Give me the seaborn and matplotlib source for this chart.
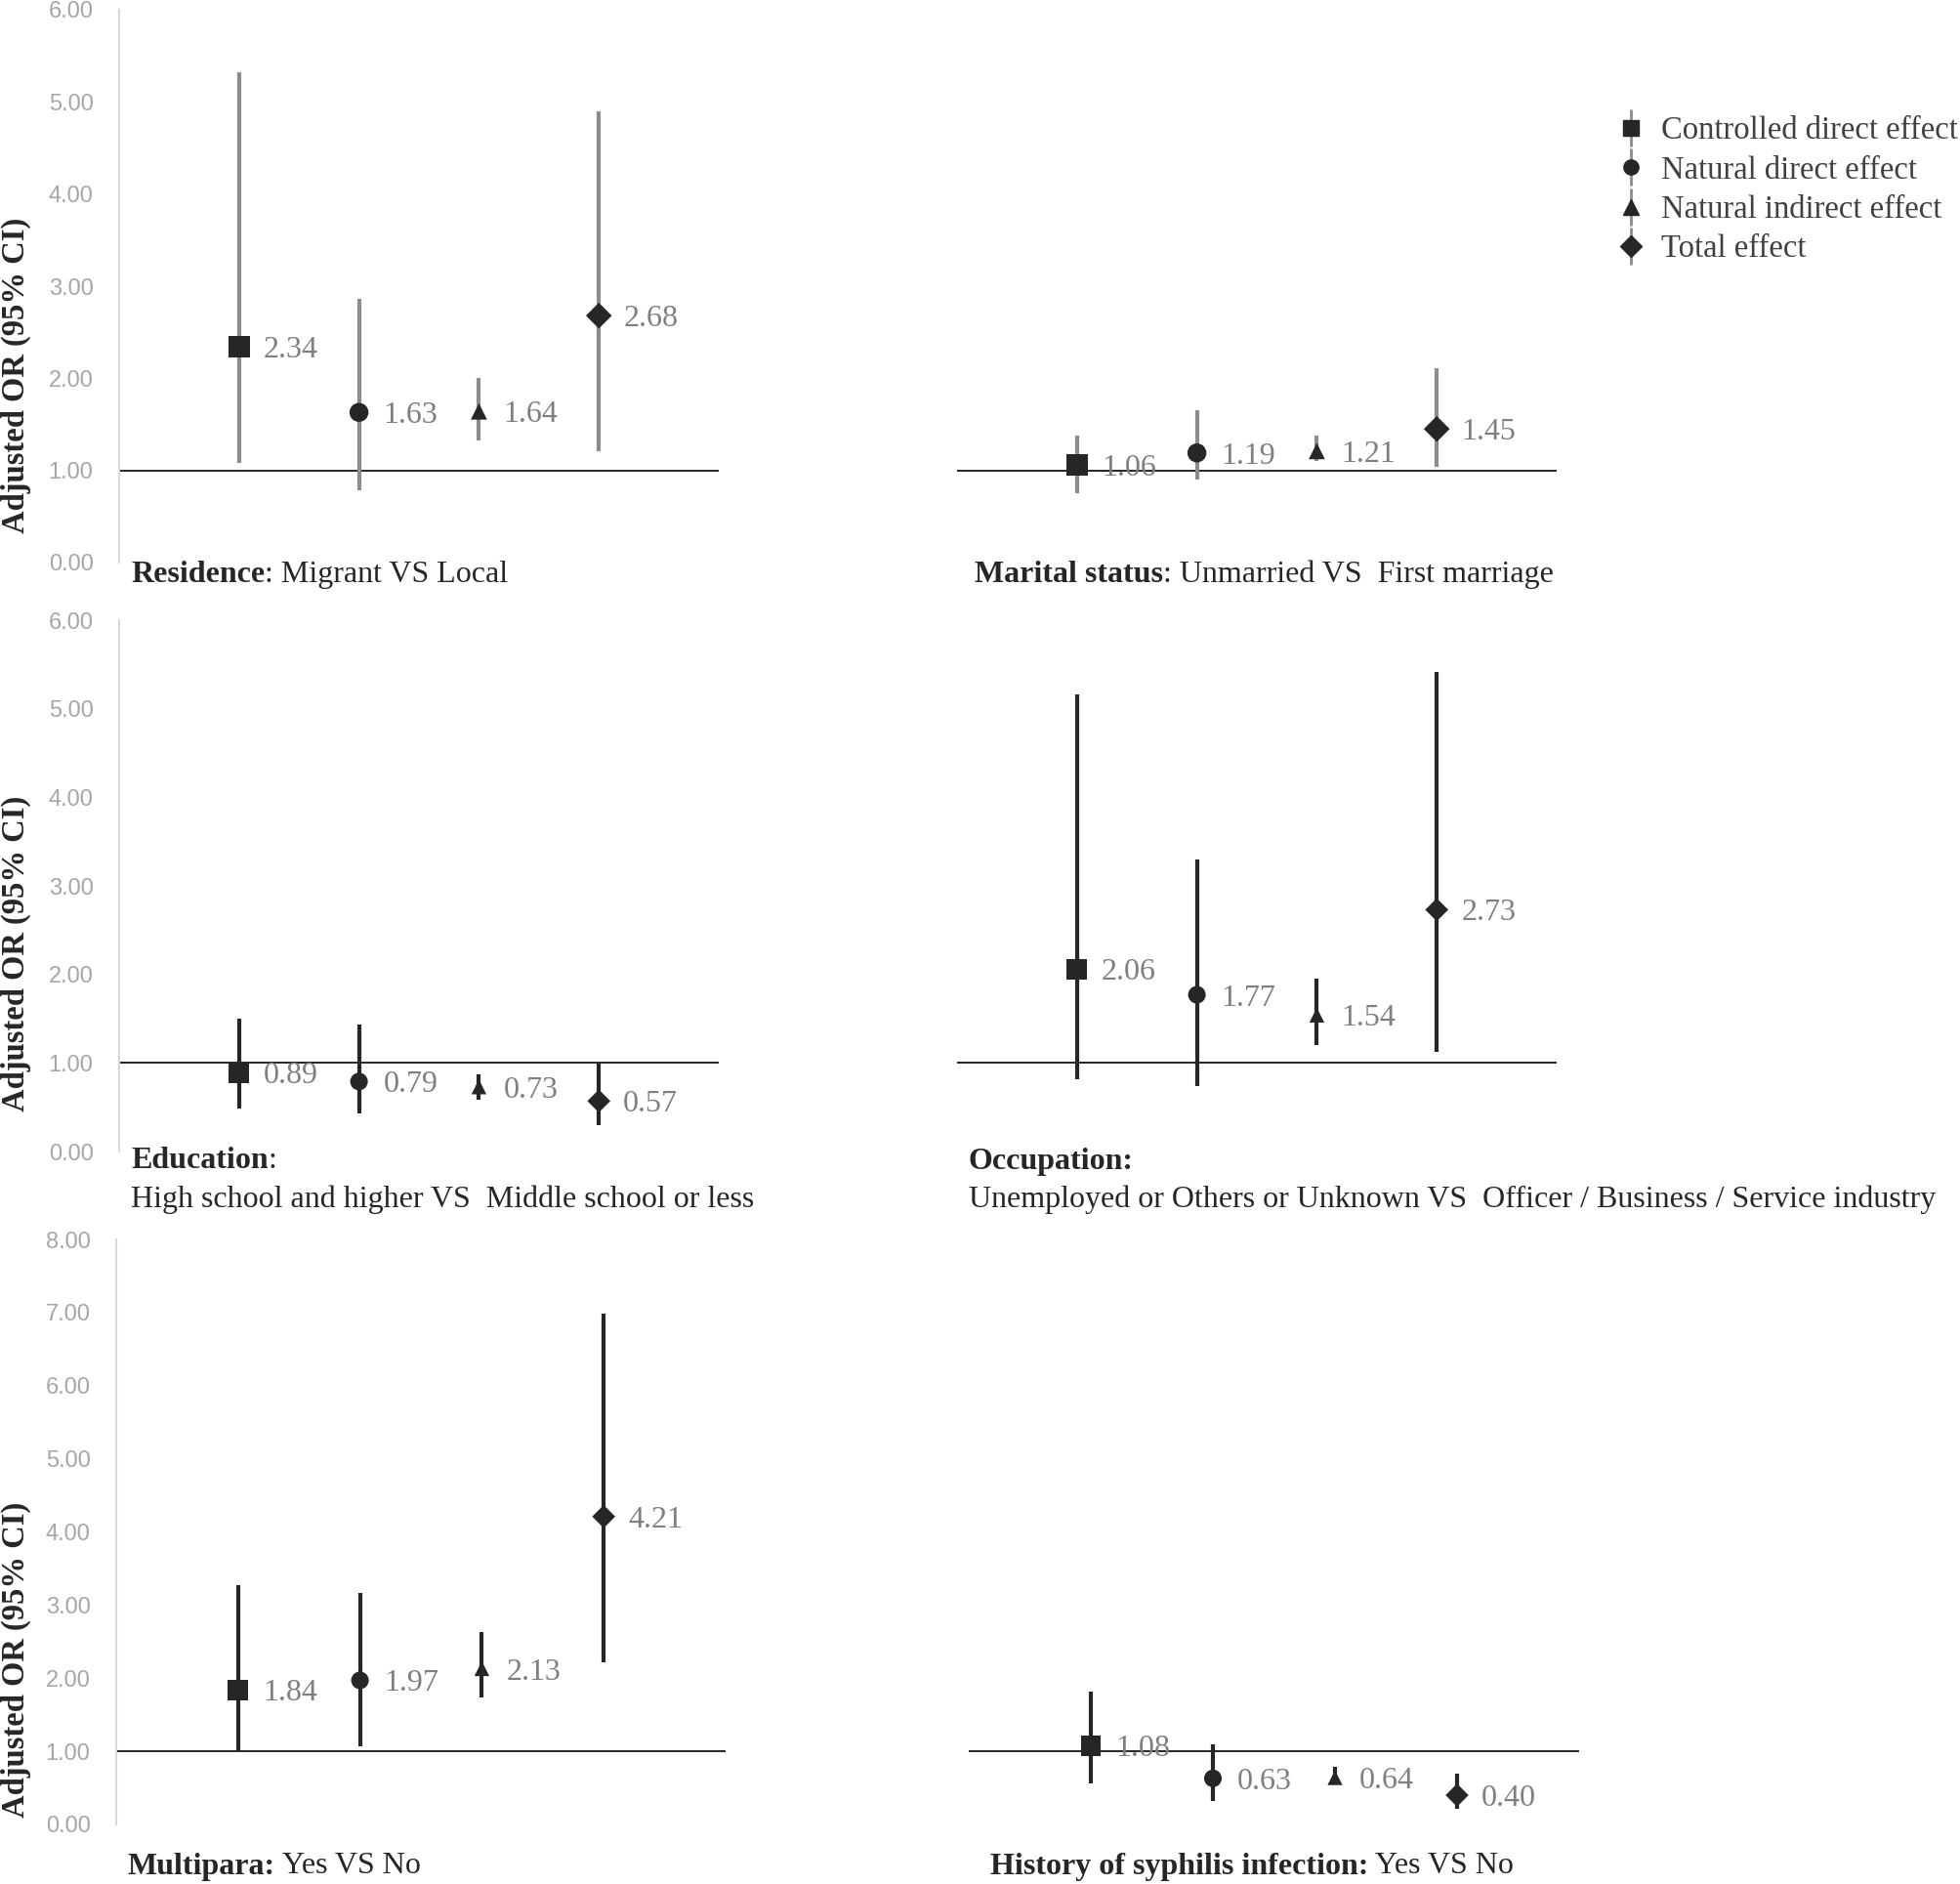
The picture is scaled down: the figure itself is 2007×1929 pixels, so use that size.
import numpy as np
import pandas as pd
import matplotlib
matplotlib.use('Agg')
import matplotlib.pyplot as plt
from matplotlib.lines import Line2D
import seaborn as sns

# --- data ---
effects = ['Controlled direct effect', 'Natural direct effect',
           'Natural indirect effect', 'Total effect']
positions = [1, 2, 3, 4]

residence_or = [2.34, 1.63, 1.64, 2.68]
residence_lo = [1.08, 0.78, 1.33, 1.21]
residence_hi = [5.32, 2.86, 2.00, 4.90]

marital_or = [1.06, 1.19, 1.21, 1.45]
marital_lo = [0.75, 0.90, 1.10, 1.04]
marital_hi = [1.38, 1.65, 1.38, 2.11]

education_or = [0.89, 0.79, 0.73, 0.57]
education_lo = [0.48, 0.43, 0.59, 0.30]
education_hi = [1.50, 1.43, 0.87, 1.00]

occupation_or = [2.06, 1.77, 1.54, 2.73]
occupation_lo = [0.82, 0.74, 1.20, 1.12]
occupation_hi = [5.16, 3.30, 1.95, 5.42]

multipara_or = [1.84, 1.97, 2.13, 4.21]
multipara_lo = [1.00, 1.07, 1.73, 2.22]
multipara_hi = [3.27, 3.16, 2.63, 6.98]

syphilis_or = [1.08, 0.63, 0.64, 0.40]
syphilis_lo = [0.56, 0.32, 0.55, 0.21]
syphilis_hi = [1.82, 1.10, 0.79, 0.70]

markers = {'Controlled direct effect': 's', 'Natural direct effect': 'o',
           'Natural indirect effect': '^', 'Total effect': 'D'}
big_sizes = {'s': 16, 'o': 14, '^': 12, 'D': 13.5}
small_sizes = {'s': 15, 'o': 13, '^': 11, 'D': 12}

DARK = '#262626'
GREY_CI = '#8c8c8c'
LABEL_GREY = '#7f7f7f'
TICK_GREY = '#a6a6a6'

sns.set_theme(style='white')
plt.rcParams['font.family'] = ['Liberation Serif', 'DejaVu Serif']

W, H = 2008, 1929
fig = plt.figure(figsize=(W / 100, H / 100), dpi=100)


def px_axes(left, right, top, bottom):
    return fig.add_axes([left / W, 1 - bottom / H, (right - left) / W, (bottom - top) / H])


def draw_panel(ax, values, low, high, ymax, ci_color, sizes, show_axis):
    df = pd.DataFrame({'effect': effects, 'pos': positions,
                       'or': values, 'lo': low, 'hi': high})
    ax.axhline(1.0, color=DARK, lw=1.4, zorder=1)
    ax.vlines(df['pos'], df['lo'], df['hi'], color=ci_color, lw=3, zorder=2)
    for eff in effects:
        m = markers[eff]
        sns.scatterplot(data=df[df['effect'] == eff], x='pos', y='or', marker=m,
                        s=sizes[m] ** 2, color=DARK, edgecolor='none', linewidth=0,
                        zorder=3, legend=False, ax=ax)
    for p, v in zip(df['pos'], df['or']):
        ax.annotate(f'{v:.2f}', (p, v), xytext=(18, 0), textcoords='offset points',
                    ha='left', va='center_baseline', fontsize=23, color=LABEL_GREY)
    ax.set_xlim(0, 5)
    ax.set_ylim(0, ymax)
    ax.set_xlabel('')
    ax.set_ylabel('')
    ax.set_xticks([])
    for side in ['top', 'right', 'bottom']:
        ax.spines[side].set_visible(False)
    if show_axis:
        ticks = np.arange(0, ymax + 1)
        ax.set_yticks(ticks)
        ax.set_yticklabels([f'{t:.2f}' for t in ticks], fontfamily='Liberation Sans',
                           color=TICK_GREY, fontsize=17)
        ax.tick_params(axis='y', length=0, pad=19)
        ax.spines['left'].set_color('#d9d9d9')
        ax.spines['left'].set_linewidth(1.5)
    else:
        ax.set_yticks([])
        ax.spines['left'].set_visible(False)
    ax.patch.set_alpha(0)


def add_title(ax, x, y, bold, rest, second=None):
    t = fig.text(x / W, 1 - y / H, bold, fontweight='bold', fontsize=23,
                 color=DARK, ha='left', va='center')
    if rest:
        ax.annotate(rest, xy=(1, 0), xycoords=t, ha='left', va='bottom',
                    fontsize=23, color=DARK, annotation_clip=False)
    if second:
        fig.text(x / W, 1 - (y + 39) / H, second, fontsize=23, color=DARK,
                 ha='left', va='center')


# --- panels ---
ax1 = px_axes(122, 736, 10, 576)
draw_panel(ax1, residence_or, residence_lo, residence_hi, 6, GREY_CI, big_sizes, True)
add_title(ax1, 134, 588, 'Residence', ': Migrant VS Local')

ax2 = px_axes(980, 1594, 10, 576)
draw_panel(ax2, marital_or, marital_lo, marital_hi, 6, GREY_CI, big_sizes, False)
add_title(ax2, 998, 588, 'Marital status', ': Unmarried VS  First marriage')

ax3 = px_axes(122, 736, 635, 1179)
draw_panel(ax3, education_or, education_lo, education_hi, 6, DARK, small_sizes, True)
add_title(ax3, 134, 1189, 'Education', ':',
          'High school and higher VS  Middle school or less')

ax4 = px_axes(980, 1594, 635, 1179)
draw_panel(ax4, occupation_or, occupation_lo, occupation_hi, 6, DARK, small_sizes, False)
add_title(ax4, 992, 1189, 'Occupation:', None,
          'Unemployed or Others or Unknown VS  Officer / Business / Service industry')

ax5 = px_axes(119, 743, 1269, 1868)
draw_panel(ax5, multipara_or, multipara_lo, multipara_hi, 8, DARK, small_sizes, True)
add_title(ax5, 131, 1911, 'Multipara:', ' Yes VS No')

ax6 = px_axes(992, 1617, 1269, 1868)
draw_panel(ax6, syphilis_or, syphilis_lo, syphilis_hi, 8, DARK, small_sizes, False)
add_title(ax6, 1014, 1911, 'History of syphilis infection:', ' Yes VS No')

# y-axis titles
for yc in [384, 976, 1699]:
    fig.text(16 / W, 1 - yc / H, 'Adjusted OR (95% CI)', rotation=90, fontweight='bold',
             fontsize=23.5, color=DARK, ha='center', va='center')

# --- legend: marker with a vertical CI stroke ---
handles = []
for eff in effects:
    bar = Line2D([], [], marker='|', markersize=28, markeredgewidth=2,
                 color=GREY_CI, linestyle='none')
    mk = Line2D([], [], marker=markers[eff], markersize=11, color=DARK, linestyle='none')
    handles.append((bar, mk))
fig.legend(handles, effects, loc='upper left', bbox_to_anchor=(1657 / W, 1 - 119 / H),
           frameon=False, fontsize=23.5, labelcolor='#404040', handlelength=0.8,
           handletextpad=0.55, labelspacing=0.3, borderpad=0, borderaxespad=0)

fig.savefig('out.png', dpi=100, facecolor='white')
